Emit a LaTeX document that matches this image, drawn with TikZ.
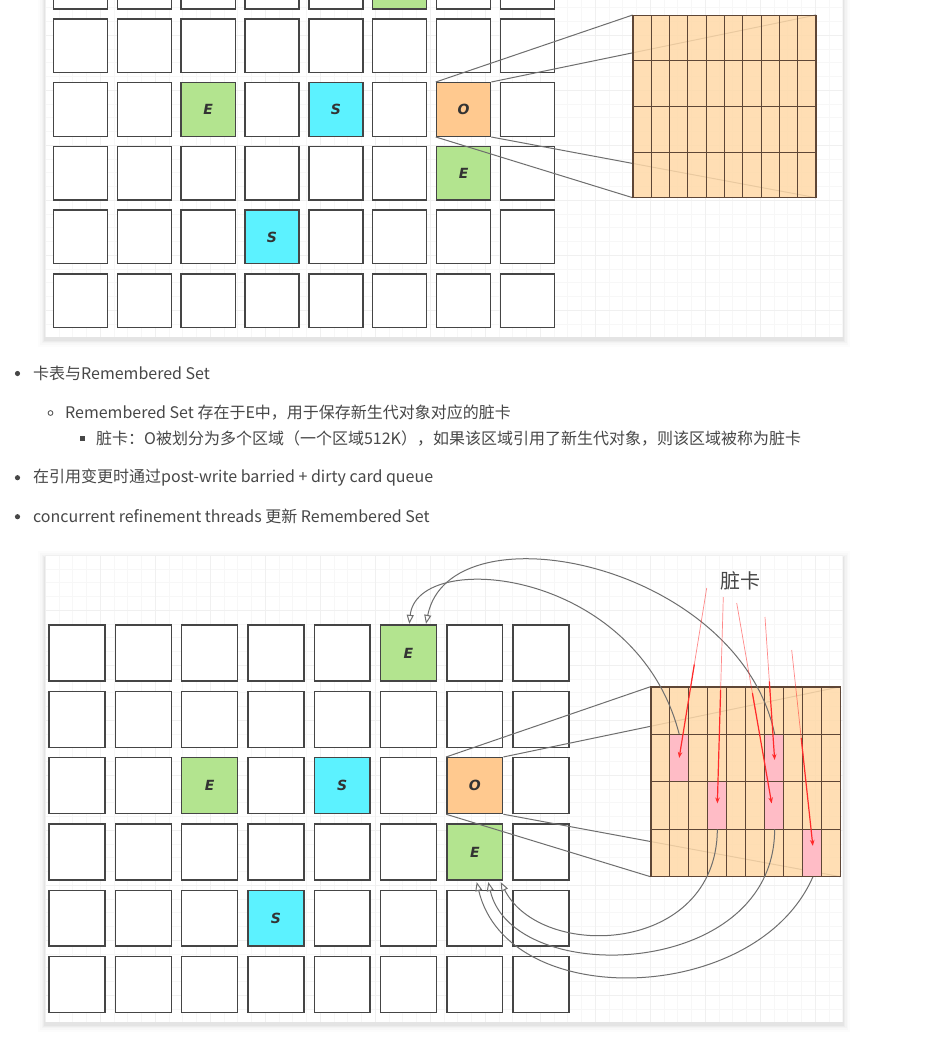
\documentclass[tikz,border=0pt]{standalone}
\usepackage{fontspec}
\usepackage{tikz}
\usetikzlibrary{calc,arrows.meta}
\newfontfamily\cjkfont{Noto Sans CJK SC}
\newfontfamily\cellfont{DejaVu Sans}
\definecolor{egreen}{HTML}{B3E48F}
\definecolor{scyan}{HTML}{5CF2FF}
\definecolor{oorange}{HTML}{FFC98F}
\definecolor{cardfill}{HTML}{FFD9A8}
\definecolor{cardline}{HTML}{5E4636}
\definecolor{dirty}{HTML}{FFBCC6}
\definecolor{cellline}{HTML}{454545}
\definecolor{txt}{HTML}{474747}
\definecolor{linkgray}{HTML}{6E6E6E}
\definecolor{dirtyred}{HTML}{FF2A2A}
\newcommand{\drawpanel}[2]{%
  \foreach \s/\o in {7/0.010,5/0.014,3.5/0.020,2/0.026,1/0.03}
    \fill[black,opacity=\o] (45-\s,#1-\s+3) rectangle (843.3+\s,#2+\s+3);
  \fill[white] (45,#1) rectangle (843.3,#2);
  \begin{scope}
    \clip (45,#1) rectangle (843.3,#2);
    \foreach \k in {0,...,58}
      \draw[gridminor] (45+\k*13.75,#1) -- (45+\k*13.75,#2);
    \foreach \k in {0,...,40}
      \draw[gridminor] (45,#1+\k*13.75) -- (843.3,#1+\k*13.75);
    \foreach \k in {0,...,15}
      \draw[gridmajor] (45+\k*55,#1) -- (45+\k*55,#2);
    \foreach \k in {0,...,10}
      \draw[gridmajor] (45,#1+\k*55) -- (843.3,#1+\k*55);
  \end{scope}}

\tikzset{
  gridminor/.style={draw=black!3,line width=0.5pt},
  gridmajor/.style={draw=black!6,line width=0.6pt},
  cell/.style={draw=cellline,line width=1.4pt,fill=white,inner sep=0pt,
    font=\cellfont\bfseries\itshape\fontsize{14}{14}\selectfont,text=black!80},
  topcell/.style={cell,minimum width=54.1pt,minimum height=53.6pt},
  botcell/.style={cell,minimum width=55.9pt,minimum height=55.9pt},
  cardtab/.style={draw=cardline,line width=1pt,fill=cardfill,fill opacity=0.85,inner sep=0pt},
  cardgrid/.style={draw=cardline,line width=1pt},
  dirtycell/.style={fill=dirty,inner sep=0pt,minimum width=19.1pt,minimum height=47.5pt},
  link/.style={draw=linkgray,line width=1pt},
  refarrow/.style={draw=linkgray,line width=1pt,-{Triangle[fill=white,length=9pt,width=7pt]}},
  dirtytail/.style={draw=dirtyred,line width=0.7pt,opacity=0.55},
  dirtyarrow/.style={draw=dirtyred,line width=1.2pt,-{Stealth[length=6pt,width=4.5pt]}},
  txtline/.style={anchor=west,inner sep=0pt,text=txt,font=\cjkfont\fontsize{16}{19}\selectfont}
}

\begin{document}
\begin{tikzpicture}[x=1pt,y=-1pt]
  \clip (0,0) rectangle (941,1045);
  \fill[white] (0,0) rectangle (941,1045);

  % upper picture
  \drawpanel{-20}{336.7}
  \foreach \r in {0,...,5}
    \foreach \c in {1,...,8}
      \node[topcell] (t\r\c) at ({80.45+63.85*(\c-1)},{-17.9+63.7*\r}) {};
  \node[topcell,fill=egreen] (tE0) at (t06) {};
  \node[topcell,fill=egreen] (tE1) at (t23) {E};
  \node[topcell,fill=scyan] (tS1) at (t25) {S};
  \node[topcell,fill=oorange] (tO) at (t27) {O};
  \node[topcell,fill=egreen] (tE2) at (t37) {E};
  \node[topcell,fill=scyan] (tS2) at (t44) {S};

  \node[cardtab,minimum width=182.3pt,minimum height=181.7pt,draw=none,fill=none] (tcard) at (724.35,106.35) {};
  \draw[link] (tO.north west) -- (tcard.north west);
  \draw[link] (tO.north east) -- (tcard.north east);
  \draw[link] (tO.south east) -- (tcard.south east);
  \draw[link] (tO.south west) -- (tcard.south west);
  \node[cardtab,minimum width=182.3pt,minimum height=181.7pt] at (tcard) {};
  \foreach \k in {1,...,9}
    \draw[cardgrid] ($(tcard.north west)!\k/10!(tcard.north east)$) -- ($(tcard.south west)!\k/10!(tcard.south east)$);
  \foreach \k in {1,...,3}
    \draw[cardgrid] ($(tcard.north west)!\k/4!(tcard.south west)$) -- ($(tcard.north east)!\k/4!(tcard.south east)$);
  \draw[cardgrid] (tcard.north west) rectangle (tcard.south east);

  % text
  \fill[txt] (17.5,373.5) circle (2.6pt);
  \node[txtline] (l1) at (33,373.5) {卡表与Remembered Set};
  \draw[txt,line width=0.8pt] (50.5,413) circle (2.4pt);
  \node[txtline] (l2) at (65,413) {Remembered Set 存在于E中，用于保存新生代对象对应的脏卡};
  \fill[txt] (79.5,435.5) rectangle (84.5,440.5);
  \node[txtline] (l3) at (96,438) {脏卡：O被划分为多个区域（一个区域512K），如果该区域引用了新生代对象，则该区域被称为脏卡};
  \fill[txt] (17.5,477.7) circle (2.6pt);
  \node[txtline] (l4) at (33,477.7) {在引用变更时通过post-write barried + dirty card queue};
  \fill[txt] (17.5,516.7) circle (2.6pt);
  \node[txtline] (l5) at (33,516.7) {concurrent refinement threads 更新 Remembered Set};

  % lower picture
  \drawpanel{555}{1021.7}
  \foreach \r in {1,...,6}
    \foreach \c in {1,...,8}
      \node[botcell] (b\r\c) at ({77+66.3*(\c-1)},{653+66.3*(\r-1)}) {};
  \node[botcell,fill=egreen] (bE0) at (b16) {E};
  \node[botcell,fill=egreen] (bE1) at (b33) {E};
  \node[botcell,fill=scyan] (bS1) at (b35) {S};
  \node[botcell,fill=oorange] (bO) at (b37) {O};
  \node[botcell,fill=egreen] (bE2) at (b47) {E};
  \node[botcell,fill=scyan] (bS2) at (b54) {S};

  \node[cardtab,minimum width=189pt,minimum height=189pt,draw=none,fill=none] (bcard) at (745.5,781.7) {};
  \draw[link] (bO.north west) -- (bcard.north west);
  \draw[link] (bO.north east) -- (bcard.north east);
  \draw[link] (bO.south east) -- (bcard.south east);
  \draw[link] (bO.south west) -- (bcard.south west);
  \node[cardtab,minimum width=189pt,minimum height=189pt] at (bcard) {};
  \foreach \c/\r in {2/2,7/2,4/3,7/3,9/4}
    \node[dirtycell] (d\r\c) at ($(bcard.north west)+({19.1*(\c-0.5)},{47.5*(\r-0.5)})$) {};
  \foreach \k in {1,...,9}
    \draw[cardgrid] ($(bcard.north west)!\k/10!(bcard.north east)$) -- ($(bcard.south west)!\k/10!(bcard.south east)$);
  \foreach \k in {1,...,3}
    \draw[cardgrid] ($(bcard.north west)!\k/4!(bcard.south west)$) -- ($(bcard.north east)!\k/4!(bcard.south east)$);
  \draw[cardgrid] (bcard.north west) rectangle (bcard.south east);

  % remembered set links
  \draw[refarrow] (d27.north) .. controls (738,562) and (450,505) .. ([xshift=17.5pt,yshift=0.5pt]bE0.north);
  \draw[refarrow] (d22.north) .. controls (636.5,568) and (417.3,548) .. ([xshift=0.8pt,yshift=0.5pt]bE0.north);
  \draw[refarrow] (d34.south) .. controls (716.5,955) and (540.7,961.5) .. ([xshift=25.9pt,yshift=-1.5pt]bE2.south);
  \draw[refarrow] (d37.south) .. controls (774.5,980) and (512.5,988.6) .. ([xshift=13.5pt,yshift=-1.5pt]bE2.south);
  \draw[refarrow] (d49.south) .. controls (756.7,1005.5) and (507.9,1012.8) .. ([xshift=1.9pt,yshift=-1.5pt]bE2.south);

  % dirty cards
  \node[text=txt,font=\cjkfont\fontsize{20}{20}\selectfont,inner sep=0pt] (dlabel) at (740,581) {脏卡};
  \coordinate (r1) at (706.7,588);
  \coordinate (r2) at (723.3,597);
  \coordinate (r3) at (736.7,603);
  \coordinate (r4) at (765,617);
  \coordinate (r5) at (791.7,650);
  \coordinate (e1) at (d22.center);
  \coordinate (e2) at ([yshift=2pt]d34.center);
  \coordinate (e3) at ([xshift=-3pt,yshift=2pt]d37.center);
  \coordinate (e4) at ([yshift=-2pt]d27.center);
  \coordinate (e5) at ([yshift=7pt]d49.center);
  \foreach \i in {1,...,5} {
    \draw[dirtytail] (r\i) -- ($(r\i)!0.55!(e\i)$);
    \draw[dirtyarrow] ($(r\i)!0.45!(e\i)$) -- (e\i);
  }
\end{tikzpicture}
\end{document}
